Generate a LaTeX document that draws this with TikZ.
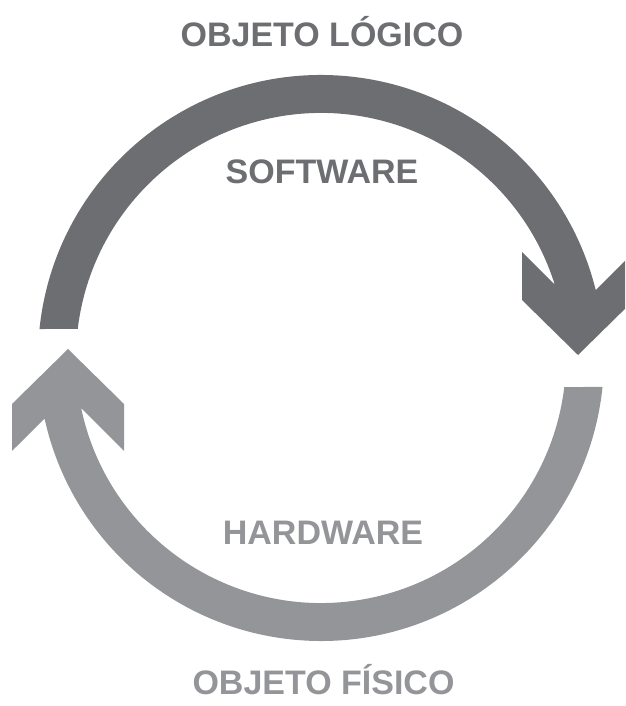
\documentclass[tikz,border=0pt]{standalone}
\usepackage{fontspec}
\setmainfont{Liberation Sans}
\usepackage{tikz}
\definecolor{grisoscuro}{RGB}{109,110,113}
\definecolor{grisclaro}{RGB}{147,149,152}

\begin{document}
\begin{tikzpicture}[x=1pt,y=1pt,
                rotulo/.style={font=\fontsize{34}{40}\selectfont\bfseries, anchor=base, inner sep=0pt}]
                \useasboundingbox (0,0) rectangle (625,706);
                \clip (0,0) rectangle (625,706);
                \begin{scope}[shift={(321,348)}]
                    \fill[grisoscuro] (174.12:283) arc[start angle=174.12, end angle=13.86, radius=283]
                        -- (313,106) -- (313,58) -- (257,3) -- (201,58) -- (201,106)
                        -- (233.8,73.2) arc[start angle=17.38, end angle=173.2, radius=245] -- cycle;
                    \fill[grisclaro] (-5.88:283) arc[start angle=-5.88, end angle=-167.66, radius=283]
                        -- (-309,-93) -- (-309,-46) -- (-253,9) -- (-197,-46) -- (-197,-93)
                        -- (-239.8,-50.2) arc[start angle=191.82, end angle=353.2, radius=245] -- cycle;
                \end{scope}
                \node[rotulo, text=grisoscuro] (logico) at (322,659) {OBJETO LÓGICO};
                \node[rotulo, text=grisoscuro] (software) at (322,522) {SOFTWARE};
                \node[rotulo, text=grisclaro] (hardware) at (323,161) {HARDWARE};
                \node[rotulo, text=grisclaro] (fisico) at (323.5,12) {OBJETO FÍSICO};
            \end{tikzpicture}
\end{document}
